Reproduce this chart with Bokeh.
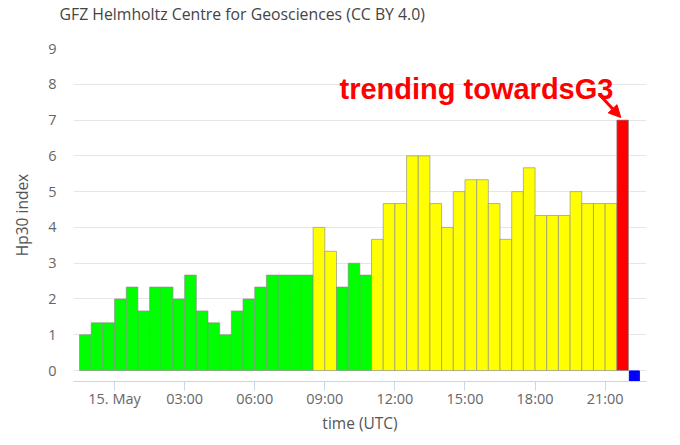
import numpy as np
import pandas as pd
from bokeh.plotting import figure
from bokeh.models import (ColumnDataSource, Range1d, FixedTicker, Label, Arrow,
                          NormalHead, Title)
from bokeh.embed import file_html
from bokeh.resources import INLINE

# ---------------- data ----------------
day_start = pd.Timestamp("2025-05-15 00:00")
slot_start = pd.date_range("2025-05-14 22:30", periods=47, freq="30min")
hp30 = [1.000, 1.333, 1.333, 2.000, 2.333, 1.667, 2.333, 2.333, 2.000, 2.667,
        1.667, 1.333, 1.000, 1.667, 2.000, 2.333, 2.667, 2.667, 2.667, 2.667,
        4.000, 3.333, 2.333, 3.000, 2.667, 3.667, 4.667, 4.667, 6.000, 6.000,
        4.667, 4.000, 5.000, 5.333, 5.333, 4.667, 3.667, 5.000, 5.667, 4.333,
        4.333, 4.333, 5.000, 4.667, 4.667, 4.667, 7.000]
now_time = pd.Timestamp("2025-05-15 22:15")
now_value = -0.15
tick_hours = [0, 3, 6, 9, 12, 15, 18, 21]
tick_labels = ["15. May", "03:00", "06:00", "09:00", "12:00", "15:00", "18:00", "21:00"]
y_ticks = [0, 1, 2, 3, 4, 5, 6, 7, 8, 9]
title_text = "GFZ Helmholtz Centre for Geosciences (CC BY 4.0)"
note_text = "trending towardsG3"

# ---------------- derived ----------------
start_h = (slot_start - day_start) / pd.Timedelta(hours=1)
centers = np.asarray(start_h, dtype=float) + 0.25


def colour(v):
    if v >= 6.6:
        return "#ff0000"
    if v > 3.1:
        return "#ffff00"
    return "#00ff00"


colors = [colour(v) for v in hp30]
src = ColumnDataSource(dict(x=centers, top=hp30, color=colors))
now_h = (now_time - day_start) / pd.Timedelta(hours=1)

FONT = "Open Sans"

p = figure(width=680, height=445, output_backend="svg", toolbar_location=None,
           x_range=Range1d(-1.757, 22.77), y_range=Range1d(-0.306, 9),
           min_border_left=73, min_border_right=34, min_border_top=47,
           min_border_bottom=64, title_location=None)
p.outline_line_color = None
p.background_fill_color = "white"
p.border_fill_color = "white"

# spacer (closest to the frame) then the real title above it
p.add_layout(Title(text=" ", text_font_size="1px", standoff=21), "above")
p.add_layout(Title(text=title_text, align="left", offset=-14,
                   vertical_align="bottom", standoff=0,
                   text_font=FONT, text_font_size="15.8px",
                   text_font_style="normal", text_color="#444444"), "above")

p.vbar(x="x", top="top", bottom=0, width=0.5, fill_color="color", source=src,
       line_color="#8c8c8c", line_width=0.8, line_alpha=0.8)

p.scatter([now_h], [now_value], marker="square", size=10, fill_color="#0000ff",
          line_color="#0000ff")

# grid
p.xgrid.grid_line_color = None
p.ygrid.grid_line_color = "#e6e6e6"
p.ygrid.grid_line_width = 1

# y axis
p.yaxis.ticker = FixedTicker(ticks=y_ticks)
p.yaxis.axis_line_color = None
p.yaxis.major_tick_line_color = None
p.yaxis.minor_tick_line_color = None
p.yaxis.major_tick_out = 0
p.yaxis.major_label_standoff = 17
p.yaxis.major_label_text_font = FONT
p.yaxis.major_label_text_font_size = "14.5px"
p.yaxis.major_label_text_color = "#666666"
p.yaxis.axis_label = "Hp30 index"
p.yaxis.axis_label_text_font = FONT
p.yaxis.axis_label_text_font_size = "15.5px"
p.yaxis.axis_label_text_font_style = "normal"
p.yaxis.axis_label_text_color = "#555555"
p.yaxis.axis_label_standoff = 12

# x axis
p.xaxis.ticker = FixedTicker(ticks=tick_hours)
p.xaxis.major_label_overrides = {h: l for h, l in zip(tick_hours, tick_labels)}
p.xaxis.axis_line_color = "#ccd6eb"
p.xaxis.major_tick_line_color = "#ccd6eb"
p.xaxis.minor_tick_line_color = None
p.xaxis.major_tick_in = 0
p.xaxis.major_tick_out = 9
p.xaxis.major_label_standoff = -2
p.xaxis.major_label_text_font = FONT
p.xaxis.major_label_text_font_size = "14.5px"
p.xaxis.major_label_text_color = "#666666"
p.xaxis.axis_label = "time (UTC)"
p.xaxis.axis_label_text_font = FONT
p.xaxis.axis_label_text_font_size = "15.5px"
p.xaxis.axis_label_text_font_style = "normal"
p.xaxis.axis_label_text_color = "#555555"
p.xaxis.axis_label_standoff = 1

# annotation
p.add_layout(Label(x=9.63, y=7.87, text=note_text, text_font="Liberation Sans",
                   text_font_style="bold", text_font_size="29px",
                   text_color="#ff0000", text_baseline="alphabetic"))
p.add_layout(Arrow(x_start=20.74, y_start=7.72, x_end=21.67, y_end=7.07,
                   line_color="#ff0000", line_width=3,
                   end=NormalHead(size=12, fill_color="#ff0000",
                                  line_color="#ff0000")))

open("out.html", "w").write(file_html(p, INLINE))
